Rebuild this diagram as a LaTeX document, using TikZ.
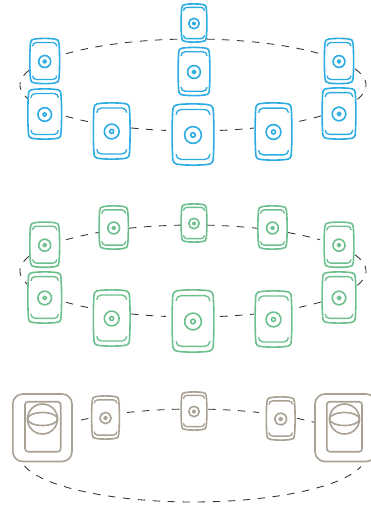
\documentclass[tikz,border=0pt]{standalone}
\tikzset{
  spk/.style={line width=1.6pt,draw=#1,line join=round},
  ring/.style={dash pattern=on 7.5pt off 7.5pt,line width=0.85pt,draw=black!80},
  anchorbox/.style={inner sep=0pt,minimum width=#1,minimum height=1pt}
}
\definecolor{cblue}{HTML}{2CACE3}
\definecolor{cgreen}{HTML}{6DC08E}
\definecolor{ctaupe}{HTML}{A9A193}
% half width, half height, corner radius, corner control offset
\newcommand{\spkshape}[4]{%
  (-#1+#3,-#2+0.5) .. controls (-#1*0.35,-#2-0.3) and (#1*0.35,-#2-0.3) .. (#1-#3,-#2+0.5)
  .. controls (#1-#4,-#2+0.7) and (#1-0.7,-#2+#4) .. (#1-0.7,-#2+#3)
  .. controls (#1+0.1,-#2*0.35) and (#1+0.1,#2*0.35) .. (#1-0.7,#2-#3)
  .. controls (#1-0.7,#2-#4) and (#1-#4,#2-0.7) .. (#1-#3,#2-0.5)
  .. controls (#1*0.35,#2+0.3) and (-#1*0.35,#2+0.3) .. (-#1+#3,#2-0.5)
  .. controls (-#1+#4,#2-0.7) and (-#1+0.7,#2-#4) .. (-#1+0.7,#2-#3)
  .. controls (-#1-0.1,#2*0.35) and (-#1-0.1,-#2*0.35) .. (-#1+0.7,-#2+#3)
  .. controls (-#1+0.7,-#2+#4) and (-#1+#4,-#2+0.7) .. cycle}
% name, cx, cy, width, height, colour
\newcommand{\speaker}[6]{%
  \pgfmathsetmacro{\ha}{#4/2}\pgfmathsetmacro{\hb}{#5/2}
  \pgfmathsetmacro{\rr}{0.34*\ha}\pgfmathsetmacro{\rc}{0.13*\ha}
  \pgfmathsetmacro{\ix}{\ha-0.095*#4}\pgfmathsetmacro{\iy}{\hb-0.09*#5}
  \pgfmathsetmacro{\hk}{0.125*#4}
  \pgfmathsetmacro{\hs}{0.45*\hk}
  \pgfmathsetmacro{\ra}{0.2*#4}\pgfmathsetmacro{\rb}{0.055*#4}
  \pgfmathsetmacro{\ax}{\ix-\hk}\pgfmathsetmacro{\by}{\iy-\hk}
  \pgfmathsetmacro{\cx}{\ix-\hs}\pgfmathsetmacro{\cy}{\iy-\hs}
  \begin{scope}[shift={(#2,#3)}]
    \node[anchorbox=#4,minimum height=#5] (#1) at (0,0) {};
    \draw[spk=#6,fill=white] \spkshape{\ha}{\hb}{\rr}{\rc};
    \draw[spk=#6,line width=1.35pt] (-\ix,-\by) .. controls (-\ix,-\cy) and (-\cx,-\iy) .. (-\ax,-\iy) -- (\ax,-\iy) .. controls (\cx,-\iy) and (\ix,-\cy) .. (\ix,-\by);
    \draw[spk=#6,line width=1.35pt] (-\ix,\by) .. controls (-\ix,\cy) and (-\cx,\iy) .. (-\ax,\iy) -- (\ax,\iy) .. controls (\cx,\iy) and (\ix,\cy) .. (\ix,\by);
    \draw[spk=#6] (0,0.5) circle[radius=\ra];
    \draw[spk=#6] (0,0.5) circle[radius=\rb];
  \end{scope}}
% name, outer left, outer right, inner left, inner right, circle cx
\newcommand{\bigspeaker}[6]{%
  \node[inner sep=0pt] (#1) at (#6,428) {};
  \draw[spk=ctaupe,fill=white,rounded corners=10pt] (#2,394) rectangle (#3,461.5);
  \draw[spk=ctaupe,rounded corners=3pt] (#4,401.7) rectangle (#5,451.7);
  \draw[spk=ctaupe] (#6,419) circle[radius=15];
  \draw[spk=ctaupe] (#6,419) ellipse[x radius=15,y radius=6.5];}
% arc of an ellipse by angles: cy, ry, t1, t2
\newcommand{\arcang}[4]{\draw[ring] plot[domain=#3:#4,samples=40] ({193+173*cos(\x)},{#1-#2*sin(\x)});}
% arc of an ellipse by x: cy, ry, x1, x2, top(+1)/bottom(-1)
\newcommand{\arcx}[5]{%
  \pgfmathsetmacro{\ta}{acos((#3-193)/173)}\pgfmathsetmacro{\tb}{acos((#4-193)/173)}
  \draw[ring] plot[domain=\ta:\tb,samples=40] ({193+173*cos(\x)},{#1-#5*#2*sin(\x)});}
\begin{document}
\begin{tikzpicture}[x=1pt,y=-1pt]
\useasboundingbox (0,0) rectangle (371,505);
\clip (0,0) rectangle (371,505);
% blue group
\arcx{85}{46}{66}{181}{1}
\arcx{85}{46}{207}{320}{1}
\arcang{85}{46}{161.5}{197.5}
\arcang{85}{46}{20.5}{-20}
\arcx{85}{46}{66}{90}{-1}
\arcx{85}{46}{131}{166}{-1}
\arcx{85}{46}{220}{254}{-1}
\arcx{85}{46}{321}{297}{-1}
\speaker{b1}{194}{23}{26}{38}{cblue}
\speaker{b2}{194}{71.5}{32}{48}{cblue}
\speaker{b3}{44.7}{61}{30}{45}{cblue}
\speaker{b4}{44.7}{114}{34}{50}{cblue}
\speaker{b5}{111.7}{131}{37}{56}{cblue}
\speaker{b6}{193}{134.5}{42}{61}{cblue}
\speaker{b7}{273.5}{131.5}{37}{57}{cblue}
\speaker{b8}{339}{61}{29.5}{45}{cblue}
\speaker{b9}{339}{113.5}{34}{51}{cblue}
% green group
\arcx{271}{46}{66}{99}{1}
\arcx{271}{46}{129}{181}{1}
\arcx{271}{46}{207}{258}{1}
\arcx{271}{46}{288}{320}{1}
\arcang{271}{46}{161.5}{197.5}
\arcang{271}{46}{20.5}{-20}
\arcx{271}{46}{66}{90}{-1}
\arcx{271}{46}{131}{166}{-1}
\arcx{271}{46}{220}{254}{-1}
\arcx{271}{46}{321}{297}{-1}
\speaker{g1}{113.7}{227.5}{29.5}{43}{cgreen}
\speaker{g2}{194}{223}{26}{38}{cgreen}
\speaker{g3}{272.5}{227.5}{29.5}{43}{cgreen}
\speaker{g4}{44.7}{244.7}{30}{45}{cgreen}
\speaker{g5}{44.7}{297.5}{34}{51}{cgreen}
\speaker{g6}{111.7}{318}{37}{56}{cgreen}
\speaker{g7}{193}{321}{42}{62}{cgreen}
\speaker{g8}{273.5}{319}{37}{56}{cgreen}
\speaker{g9}{339}{244.7}{30}{45}{cgreen}
\speaker{g10}{339}{297.5}{34}{51}{cgreen}
% taupe group
\arcx{455.5}{46.5}{81}{89}{1}
\arcx{455.5}{46.5}{127}{181}{1}
\arcx{455.5}{46.5}{208}{259}{1}
\arcx{455.5}{46.5}{297}{314}{1}
\arcx{455.5}{46.5}{24.5}{361}{-1}
\bigspeaker{t1}{12.8}{72}{25}{60.7}{42.5}
\bigspeaker{t5}{315}{376}{326.8}{362}{344.5}
\speaker{t2}{105.5}{417.5}{28}{43}{ctaupe}
\speaker{t3}{194}{411}{26}{38}{ctaupe}
\speaker{t4}{280.7}{418.5}{29}{43}{ctaupe}
\end{tikzpicture}
\end{document}
